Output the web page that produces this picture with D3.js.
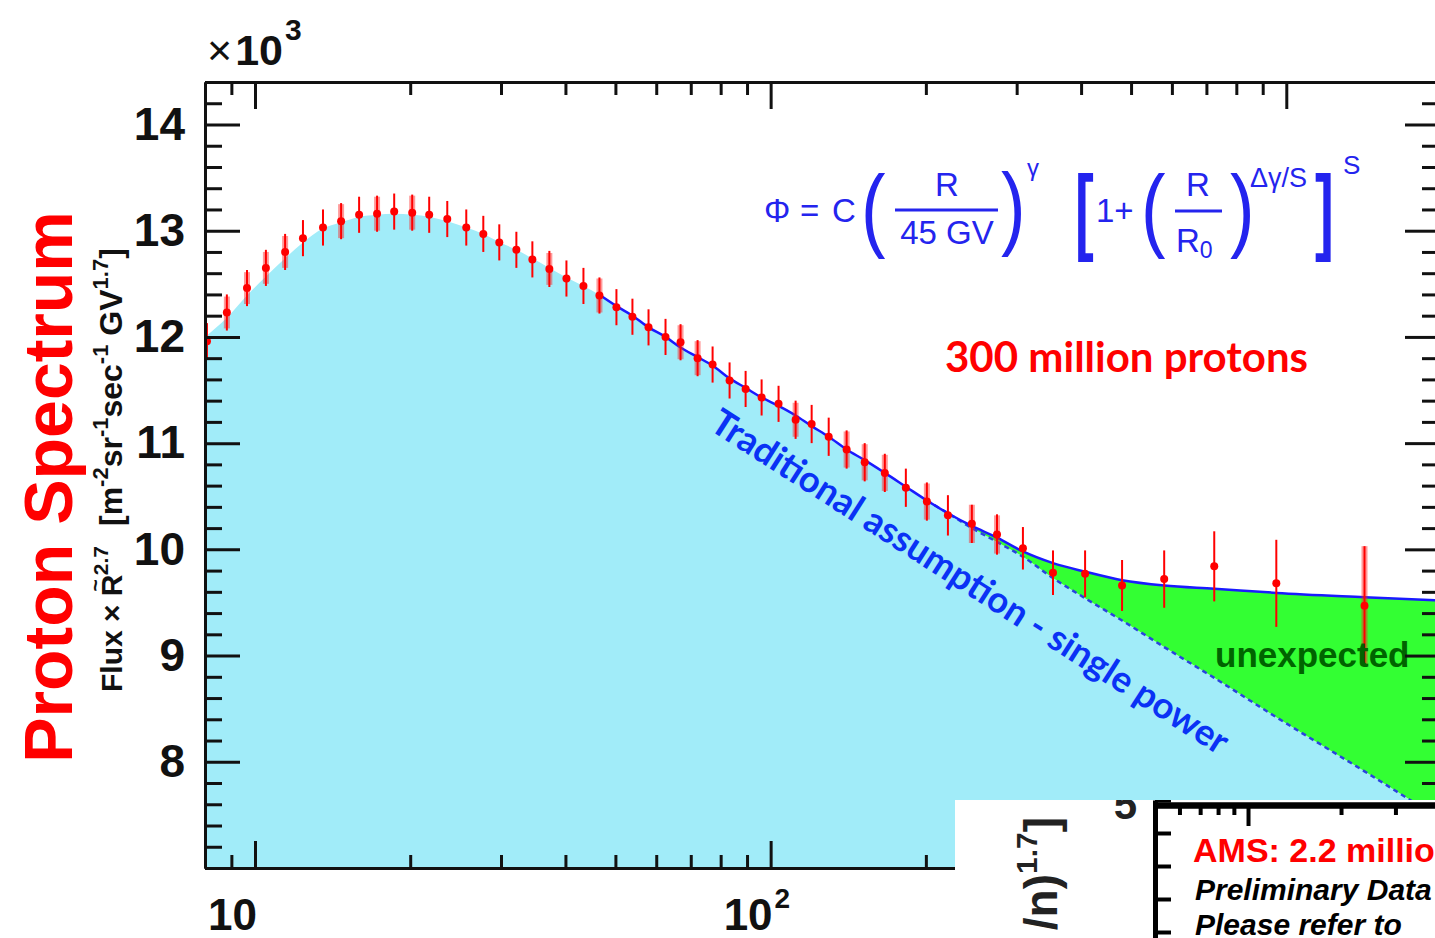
<!DOCTYPE html>
<html>
<head>
<meta charset="utf-8">
<script src="https://cdn.jsdelivr.net/npm/d3@7"></script>
<style>
body { margin: 0; background: #fff; overflow: hidden; }
svg { display: block; }
</style>
</head>
<body>
<script>
var width = 1435;
var height = 938;

// measured points: rigidity (GV) and flux x R^2.7 (x10^3)
var rigidity = [8.07, 8.82, 9.65, 10.50, 11.44, 12.39, 13.55, 14.69, 15.92, 17.25, 18.62, 20.18, 21.77, 23.60, 25.69, 27.72, 29.77, 32.13, 34.51, 37.23, 40.18, 43.35, 46.56, 50.23, 53.95, 57.97, 62.54, 66.88, 72.17, 77.17, 83.25, 89.43, 96.05, 103.6, 111.8, 120.1, 129.6, 140.4, 152.2, 166.5, 182.9, 200.9, 220.7, 245.6, 274.8, 308.5, 352.8, 407.2, 480.3, 579.7, 724.9, 956.4, 1418];
var flux = [11.96, 12.23, 12.46, 12.65, 12.80, 12.93, 13.03, 13.09, 13.15, 13.16, 13.18, 13.17, 13.15, 13.11, 13.03, 12.97, 12.89, 12.82, 12.73, 12.64, 12.55, 12.48, 12.39, 12.28, 12.19, 12.09, 12.00, 11.95, 11.80, 11.74, 11.59, 11.51, 11.43, 11.37, 11.22, 11.18, 11.06, 10.94, 10.82, 10.72, 10.58, 10.45, 10.32, 10.24, 10.14, 10.01, 9.78, 9.77, 9.66, 9.72, 9.84, 9.68, 9.47];
var fluxErr = [0.17, 0.17, 0.17, 0.17, 0.17, 0.17, 0.17, 0.17, 0.17, 0.17, 0.17, 0.17, 0.17, 0.17, 0.17, 0.17, 0.17, 0.17, 0.17, 0.17, 0.17, 0.17, 0.17, 0.17, 0.17, 0.17, 0.17, 0.17, 0.17, 0.17, 0.17, 0.17, 0.17, 0.17, 0.18, 0.18, 0.18, 0.18, 0.18, 0.18, 0.18, 0.18, 0.19, 0.18, 0.19, 0.20, 0.21, 0.22, 0.24, 0.27, 0.33, 0.41, 0.56];
var sysErr = [0, 0.15, 0.15, 0.15, 0.15, 0, 0, 0.16, 0, 0.16, 0, 0.16, 0, 0, 0, 0, 0, 0, 0, 0.15, 0, 0, 0.16, 0, 0, 0, 0, 0.16, 0.16, 0, 0, 0, 0, 0, 0.16, 0, 0, 0.17, 0.17, 0.17, 0, 0.17, 0, 0.18, 0.18, 0, 0, 0, 0, 0, 0, 0, 0.56];

// fitted curves
var curveR = [8.0, 8.82, 9.65, 10.50, 11.44, 12.39, 13.55, 14.69, 15.92, 17.25, 18.62, 20.18, 21.87, 23.60, 25.69, 27.72, 29.90, 32.13, 34.51, 37.23, 40.18, 43.35, 46.77, 50.23, 53.95, 57.97, 62.54, 66.88, 72.17, 77.17, 83.25, 89.43, 96.05, 103.6, 111.8, 120.1, 129.6, 140.4, 152.2, 166.5, 182.9, 200.9, 220.7, 245.6, 274.8, 308.5, 352.8, 407.2, 480.3, 579.7, 724.9, 956.4, 1418, 1960];
var fitFlux = [12.00, 12.18, 12.39, 12.57, 12.74, 12.89, 13.02, 13.08, 13.13, 13.15, 13.16, 13.15, 13.13, 13.09, 13.03, 12.97, 12.89, 12.82, 12.74, 12.65, 12.56, 12.48, 12.39, 12.29, 12.20, 12.09, 12.00, 11.90, 11.81, 11.73, 11.61, 11.52, 11.43, 11.35, 11.26, 11.16, 11.06, 10.94, 10.84, 10.72, 10.59, 10.46, 10.34, 10.22, 10.11, 9.98, 9.87, 9.79, 9.71, 9.66, 9.63, 9.59, 9.55, 9.52];
var splFlux = [12.00, 12.18, 12.39, 12.57, 12.74, 12.89, 13.02, 13.08, 13.13, 13.15, 13.16, 13.15, 13.13, 13.09, 13.03, 12.97, 12.89, 12.82, 12.74, 12.65, 12.56, 12.48, 12.39, 12.29, 12.20, 12.09, 12.00, 11.90, 11.81, 11.73, 11.61, 11.52, 11.43, 11.35, 11.26, 11.16, 11.06, 10.94, 10.84, 10.72, 10.59, 10.46, 10.34, 10.20, 10.07, 9.93, 9.73, 9.54, 9.33, 9.08, 8.79, 8.42, 7.91, 7.48];

// axis ticks
var xMajor = [10, 100, 1000];
var xMinor = [9, 20, 30, 40, 50, 60, 70, 80, 90, 200, 300, 400, 500, 600, 700, 800, 900];
var xLabels = [{v: 10, base: "10", sup: ""}, {v: 100, base: "10", sup: "2"}];
var yMajor = [7, 8, 9, 10, 11, 12, 13, 14];
var yMinor = [7.2, 7.4, 7.6, 7.8, 8.2, 8.4, 8.6, 8.8, 9.2, 9.4, 9.6, 9.8, 10.2, 10.4, 10.6, 10.8, 11.2, 11.4, 11.6, 11.8, 12.2, 12.4, 12.6, 12.8, 13.2, 13.4, 13.6, 13.8, 14.2, 14.4];
var insetXMajor = [10];
var insetXMinor = [6, 7, 8, 9, 20, 30];
var insetYTicks = [4.2, 4.4, 4.6, 4.8, 5];

var svg = d3.select("body").append("svg")
  .attr("width", width)
  .attr("height", height);

var x = d3.scaleLog().domain([8, 1960]).range([205, 1437]);
var y = d3.scaleLinear().domain([7, 14.4]).range([868, 82]);

svg.append("clipPath").attr("id", "plotClip")
  .append("rect").attr("x", 205).attr("y", 82).attr("width", 1232).attr("height", 786);

var curve = curveR.map(function(r, i) { return {r: r, fit: fitFlux[i], spl: splFlux[i]}; });
var points = rigidity.map(function(r, i) { return {r: r, v: flux[i], e: fluxErr[i], s: sysErr[i]}; });

var plot = svg.append("g").attr("clip-path", "url(#plotClip)");

// single power law area
plot.append("path").datum(curve)
  .attr("fill", "#a1ecf9")
  .attr("d", d3.area().curve(d3.curveMonotoneX)
    .x(function(d) { return x(d.r); })
    .y0(y(7))
    .y1(function(d) { return y(d.spl); }));

// excess over the single power law
plot.append("path").datum(curve.filter(function(d) { return d.r >= 200; }))
  .attr("fill", "#33ff33")
  .attr("d", d3.area().curve(d3.curveMonotoneX)
    .x(function(d) { return x(d.r); })
    .y0(function(d) { return y(d.spl); })
    .y1(function(d) { return y(d.fit); }));

plot.append("path").datum(curve.filter(function(d) { return d.r >= 200; }))
  .attr("fill", "none")
  .attr("stroke", "#2a44dd")
  .attr("stroke-width", 2.5)
  .attr("stroke-dasharray", "5,4")
  .attr("d", d3.line().curve(d3.curveMonotoneX)
    .x(function(d) { return x(d.r); })
    .y(function(d) { return y(d.spl); }));

plot.append("path").datum(curve.filter(function(d) { return d.r >= 46; }))
  .attr("fill", "none")
  .attr("stroke", "#1a1aff")
  .attr("stroke-width", 2.5)
  .attr("d", d3.line().curve(d3.curveMonotoneX)
    .x(function(d) { return x(d.r); })
    .y(function(d) { return y(d.fit); }));

// annotations inside the plot
svg.append("text")
  .attr("x", 1215).attr("y", 667)
  .style("font-family", "Liberation Sans, Arial, sans-serif")
  .style("font-weight", "bold")
  .style("font-size", "35px")
  .attr("fill", "#006400")
  .text("unexpected");

svg.append("text")
  .attr("transform", "translate(708,429) rotate(32.6)")
  .style("font-family", "Lato, sans-serif")
  .style("font-weight", "bold")
  .style("font-size", "36.5px")
  .attr("fill", "#0a32f5")
  .text("Traditional assumption - single power");

svg.append("text")
  .attr("x", 945).attr("y", 372)
  .style("font-family", "Lato, sans-serif")
  .style("font-weight", "bold")
  .style("font-size", "42px")
  .attr("fill", "#ff0000")
  .text("300 million protons");

// data: error bars and markers
var dots = plot.append("g");
dots.selectAll(".sys")
  .data(points.filter(function(d) { return d.s > 0; }))
  .enter().append("rect")
  .attr("class", "sys")
  .attr("x", function(d) { return x(d.r) - 3; })
  .attr("width", 6)
  .attr("y", function(d) { return y(d.v + d.s); })
  .attr("height", function(d) { return y(d.v - d.s) - y(d.v + d.s); })
  .attr("fill", "#ff2020")
  .attr("fill-opacity", 0.45);

dots.selectAll(".err")
  .data(points)
  .enter().append("line")
  .attr("class", "err")
  .attr("x1", function(d) { return x(d.r); })
  .attr("x2", function(d) { return x(d.r); })
  .attr("y1", function(d) { return y(d.v + d.e); })
  .attr("y2", function(d) { return y(d.v - d.e); })
  .attr("stroke", "#ff0000")
  .attr("stroke-width", 2);

dots.selectAll(".pt")
  .data(points)
  .enter().append("circle")
  .attr("class", "pt")
  .attr("cx", function(d) { return x(d.r); })
  .attr("cy", function(d) { return y(d.v); })
  .attr("r", 4)
  .attr("fill", "#ff0000");

// axes
function inkAxis(g) {
  g.selectAll("path.domain").attr("stroke", "#111").attr("stroke-width", 3);
  g.selectAll(".tick line").attr("stroke", "#111").attr("stroke-width", 3);
}

svg.append("g").attr("transform", "translate(0,868)")
  .call(d3.axisBottom(x).tickValues(xMinor).tickSize(-13).tickSizeOuter(0).tickFormat(""))
  .call(inkAxis);
svg.append("g").attr("transform", "translate(0,868)")
  .call(d3.axisBottom(x).tickValues(xMajor).tickSize(-27).tickSizeOuter(0).tickFormat(""))
  .call(inkAxis);
svg.append("g").attr("transform", "translate(0,82)")
  .call(d3.axisTop(x).tickValues(xMinor).tickSize(-13).tickSizeOuter(0).tickFormat(""))
  .call(inkAxis);
svg.append("g").attr("transform", "translate(0,82)")
  .call(d3.axisTop(x).tickValues(xMajor).tickSize(-27).tickSizeOuter(0).tickFormat(""))
  .call(inkAxis);

svg.append("g").attr("transform", "translate(205,0)")
  .call(d3.axisLeft(y).tickValues(yMinor).tickSize(-17).tickSizeOuter(0).tickFormat(""))
  .call(inkAxis);
var yAx = svg.append("g").attr("transform", "translate(205,0)")
  .call(d3.axisLeft(y).tickValues(yMajor).tickSize(-35).tickSizeOuter(0).tickPadding(20).tickFormat(function(d) { return d === 7 ? "" : d; }))
  .call(inkAxis);
yAx.selectAll("text")
  .style("font-family", "Liberation Sans, Arial, sans-serif")
  .style("font-weight", "bold")
  .style("font-size", "46px")
  .attr("fill", "#111");

svg.append("g").attr("transform", "translate(1437,0)")
  .call(d3.axisRight(y).tickValues(yMinor).tickSize(-15).tickSizeOuter(0).tickFormat(""))
  .call(inkAxis);
svg.append("g").attr("transform", "translate(1437,0)")
  .call(d3.axisRight(y).tickValues(yMajor).tickSize(-32).tickSizeOuter(0).tickFormat(""))
  .call(inkAxis);

// x labels
var xl = svg.append("g")
  .style("font-family", "Liberation Sans, Arial, sans-serif")
  .style("font-weight", "bold")
  .attr("fill", "#111");
xLabels.forEach(function(l) {
  var t = xl.append("text")
    .attr("x", x(l.v) - 47)
    .attr("y", 930)
    .style("font-size", "44px")
    .text(l.base);
  if (l.sup) {
    t.append("tspan").attr("dy", -22).attr("dx", 2).style("font-size", "28px").text(l.sup);
  }
});

var mult = svg.append("text")
  .attr("x", 207).attr("y", 65)
  .style("font-family", "Liberation Sans, Arial, sans-serif")
  .style("font-weight", "bold")
  .style("font-size", "43px")
  .attr("fill", "#111");
mult.append("tspan").style("font-weight", "normal").text("\u00d7");
mult.append("tspan").attr("dx", 3).text("10");
mult.append("tspan").attr("dy", -25).attr("dx", 2).style("font-size", "30px").text("3");

// titles
svg.append("text")
  .attr("transform", "translate(72,487) rotate(-90)")
  .attr("text-anchor", "middle")
  .style("font-family", "Liberation Sans, Arial, sans-serif")
  .style("font-weight", "bold")
  .style("font-size", "68px")
  .attr("fill", "#ff0000")
  .text("Proton Spectrum");

var yt = svg.append("text")
  .attr("transform", "translate(122,692) rotate(-90)")
  .style("font-family", "Liberation Sans, Arial, sans-serif")
  .style("font-weight", "bold")
  .style("font-size", "30px")
  .attr("fill", "#111");
yt.append("tspan").text("Flux \u00d7 R");
yt.append("tspan").attr("dx", -17).attr("dy", -20).style("font-size", "21px").text("~");
yt.append("tspan").attr("dx", 4).attr("dy", 6).style("font-size", "21px").text("2.7");
yt.append("tspan").attr("dx", 20).attr("dy", 14).style("font-size", "32px").text("[m");
yt.append("tspan").attr("dy", -14).style("font-size", "22px").text("-2");
yt.append("tspan").attr("dy", 14).style("font-size", "32px").text("sr");
yt.append("tspan").attr("dy", -14).style("font-size", "22px").text("-1");
yt.append("tspan").attr("dy", 14).style("font-size", "32px").text("sec");
yt.append("tspan").attr("dy", -14).style("font-size", "22px").text("-1");
yt.append("tspan").attr("dy", 14).style("font-size", "32px").text(" GV");
yt.append("tspan").attr("dy", -14).style("font-size", "22px").text("1.7");
yt.append("tspan").attr("dy", 14).style("font-size", "32px").text("]");

// formula
var fm = svg.append("g")
  .style("font-family", "Liberation Sans, Arial, sans-serif")
  .attr("fill", "#2424ee");
fm.append("text").attr("x", 764).attr("y", 222).style("font-size", "33px").text("\u03a6");
fm.append("text").attr("x", 800).attr("y", 222).style("font-size", "33px").text("=");
fm.append("text").attr("x", 832).attr("y", 222).style("font-size", "33px").text("C");
fm.append("text").attr("transform", "translate(861,240) scale(0.8,1)").style("font-size", "92px").text("(");
fm.append("text").attr("x", 947).attr("y", 196).attr("text-anchor", "middle").style("font-size", "33px").text("R");
fm.append("line").attr("x1", 895).attr("x2", 998).attr("y1", 210).attr("y2", 210).attr("stroke", "#2424ee").attr("stroke-width", 3);
fm.append("text").attr("x", 947).attr("y", 244).attr("text-anchor", "middle").style("font-size", "33px").text("45 GV");
fm.append("text").attr("transform", "translate(1001,238) scale(0.8,1)").style("font-size", "92px").text(")");
fm.append("text").attr("x", 1027).attr("y", 176).style("font-size", "24px").text("\u03b3");
fm.append("text").attr("transform", "translate(1075,242) scale(0.6,1)").style("font-size", "94px").style("font-weight", "bold").text("[");
fm.append("text").attr("x", 1096).attr("y", 222).style("font-size", "33px").text("1+");
fm.append("text").attr("transform", "translate(1141,240) scale(0.8,1)").style("font-size", "92px").text("(");
fm.append("text").attr("x", 1198).attr("y", 196).attr("text-anchor", "middle").style("font-size", "33px").text("R");
fm.append("line").attr("x1", 1175).attr("x2", 1222).attr("y1", 211).attr("y2", 211).attr("stroke", "#2424ee").attr("stroke-width", 3);
var r0 = fm.append("text").attr("x", 1176).attr("y", 252).style("font-size", "33px").text("R");
r0.append("tspan").attr("dy", 6).style("font-size", "23px").text("0");
fm.append("text").attr("transform", "translate(1230,240) scale(0.8,1)").style("font-size", "92px").text(")");
fm.append("text").attr("x", 1250).attr("y", 187).style("font-size", "27px").text("\u0394\u03b3/S");
fm.append("text").attr("transform", "translate(1315,242) scale(0.6,1)").style("font-size", "94px").style("font-weight", "bold").text("]");
fm.append("text").attr("x", 1343).attr("y", 174).style("font-size", "26px").text("S");

// overlapping fragment of a second figure, bottom right
var ins = svg.append("g");
ins.append("clipPath").attr("id", "insClip")
  .append("rect").attr("x", 955).attr("y", 800).attr("width", 480).attr("height", 138);
ins.append("rect").attr("x", 955).attr("y", 800).attr("width", 480).attr("height", 138).attr("fill", "#fff");
var insG = ins.append("g").attr("clip-path", "url(#insClip)");

var ix = d3.scaleLog().domain([5, 100]).range([1155, 1557]);
var iy = d3.scaleLinear().domain([4, 5]).range([965, 800]);

var insL = insG.append("g").attr("transform", "translate(1155,0)")
  .call(d3.axisLeft(iy).tickValues(insetYTicks).tickSize(-16).tickSizeOuter(0).tickPadding(18)
    .tickFormat(function(d) { return d === 5 ? "5" : ""; }));
insL.selectAll("path.domain").attr("stroke", "#000").attr("stroke-width", 5);
insL.selectAll(".tick line").attr("stroke", "#000").attr("stroke-width", 4);
insL.selectAll("text")
  .attr("dy", "0.45em")
  .style("font-family", "Liberation Sans, Arial, sans-serif")
  .style("font-weight", "bold")
  .style("font-size", "42px")
  .attr("fill", "#222");

var insT1 = insG.append("g").attr("transform", "translate(0,805)")
  .call(d3.axisTop(ix).tickValues(insetXMinor).tickSize(-10).tickSizeOuter(0).tickFormat(""));
var insT2 = insG.append("g").attr("transform", "translate(0,805)")
  .call(d3.axisTop(ix).tickValues(insetXMajor).tickSize(-21).tickSizeOuter(0).tickFormat(""));
[insT1, insT2].forEach(function(g) {
  g.selectAll("path.domain").attr("stroke", "#000").attr("stroke-width", 6);
  g.selectAll(".tick line").attr("stroke", "#000").attr("stroke-width", 4);
});

var it = insG.append("text")
  .attr("transform", "translate(1057,817) rotate(-90)")
  .attr("text-anchor", "end")
  .style("font-family", "Liberation Sans, Arial, sans-serif")
  .style("font-weight", "bold")
  .style("font-size", "46px")
  .attr("fill", "#222");
it.append("tspan").text("/n)");
it.append("tspan").attr("dy", -20).style("font-size", "30px").text("1.7");
it.append("tspan").attr("dy", 20).text("]");

var insText = insG.append("g").style("font-family", "Liberation Sans, Arial, sans-serif").style("font-weight", "bold");
insText.append("text").attr("x", 1193).attr("y", 862).style("font-size", "34px").attr("fill", "#ff0000").text("AMS: 2.2 million");
insText.append("text").attr("x", 1195).attr("y", 900).style("font-size", "30px").style("font-style", "italic").attr("fill", "#000").text("Preliminary Data");
insText.append("text").attr("x", 1195).attr("y", 935).style("font-size", "30px").style("font-style", "italic").attr("fill", "#000").text("Please refer to");
</script>
</body>
</html>
